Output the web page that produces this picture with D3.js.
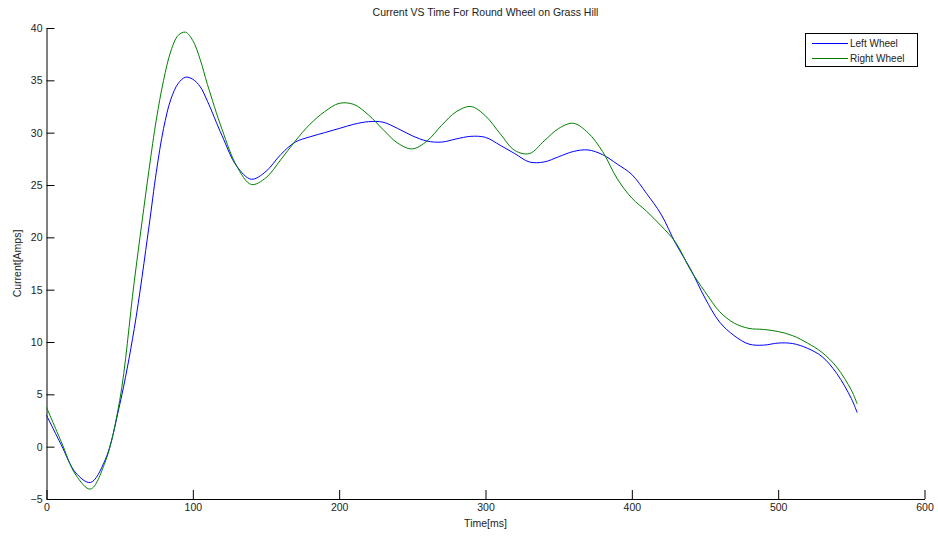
<!DOCTYPE html>
<html>
<head>
<meta charset="utf-8">
<script src="https://cdn.jsdelivr.net/npm/d3@7"></script>
<style>
  body { margin: 0; background: #fff; }
  svg { font-family: Arial, "Liberation Sans", sans-serif; }
</style>
</head>
<body>
<svg width="938" height="538"></svg>
<script>
"use strict";

// sample times (ms)
var time = [0, 10, 20, 30, 40, 50, 60, 70, 75, 80, 85, 90, 95, 100, 105, 110, 120, 130, 140, 150, 160, 170, 180, 190,
  200, 210, 220, 230, 240, 250, 260, 270, 280, 290, 300, 310, 320, 330, 340, 350, 360, 370, 380, 390,
  400, 410, 420, 430, 440, 450, 460, 470, 480, 490, 500, 510, 520, 530, 540, 550, 554];

var leftWheel = [3.0, 0.2, -2.5, -3.42, -1.3, 4.0, 11.3, 21.0, 26.2, 30.4, 33.2, 34.7, 35.3, 35.1, 34.4, 33.0, 29.7, 26.8, 25.55, 26.3, 27.9, 29.1, 29.6, 30.0,
  30.4, 30.8, 31.05, 31.0, 30.4, 29.7, 29.2, 29.1, 29.4, 29.65, 29.55, 28.8, 28.0, 27.2, 27.2, 27.7, 28.2, 28.35, 27.9, 27.0,
  26.0, 24.2, 22.2, 19.4, 17.0, 14.2, 11.9, 10.6, 9.8, 9.7, 9.9, 9.85, 9.4, 8.6, 7.0, 4.6, 3.25];

var rightWheel = [3.76, 0.5, -2.7, -4.05, -1.5, 4.4, 15.8, 26.4, 31.2, 35.0, 37.8, 39.3, 39.6, 38.8, 37.0, 34.6, 30.3, 26.8, 25.05, 25.7, 27.4, 29.2, 30.8, 32.0,
  32.8, 32.7, 31.7, 30.3, 29.0, 28.45, 29.2, 30.7, 32.0, 32.5, 31.6, 29.9, 28.3, 28.0, 29.2, 30.4, 30.9, 30.0, 28.2, 25.6,
  23.75, 22.5, 21.1, 19.5, 16.9, 14.8, 12.9, 11.8, 11.3, 11.2, 11.0, 10.6, 9.9, 9.0, 7.6, 5.4, 4.08];

var xTicks = [0, 100, 200, 300, 400, 500, 600];
var yTicks = [-5, 0, 5, 10, 15, 20, 25, 30, 35, 40];

var seriesNames = ["Left Wheel", "Right Wheel"];
var seriesColors = ["#0000ff", "#008000"];

var svg = d3.select("svg");
var x = d3.scaleLinear().domain([0, 600]).range([46.5, 924.5]);
var y = d3.scaleLinear().domain([-5, 40]).range([499, 28]);

function styleAxis(g) {
  g.select(".domain").attr("stroke", "#000");
  g.selectAll(".tick line").attr("stroke", "#000");
  g.selectAll("text").attr("font-size", 10.5).attr("fill", "#222")
    .attr("font-family", "Arial, 'Liberation Sans', sans-serif");
}

// axes, ticks pointing inward
svg.append("g")
  .attr("transform", "translate(0," + y(-5) + ")")
  .call(d3.axisBottom(x).tickValues(xTicks).tickSizeInner(-9).tickSizeOuter(0).tickPadding(5))
  .call(styleAxis);

svg.append("g")
  .attr("transform", "translate(" + x(0) + ",0)")
  .call(d3.axisLeft(y).tickValues(yTicks).tickSizeInner(-8).tickSizeOuter(0).tickPadding(4))
  .call(styleAxis);

// lines
var line = d3.line()
  .x(function (d) { return x(d[0]); })
  .y(function (d) { return y(d[1]); })
  .curve(d3.curveCatmullRom.alpha(0.5));

[leftWheel, rightWheel].forEach(function (vals, i) {
  svg.append("path")
    .datum(time.map(function (t, j) { return [t, vals[j]]; }))
    .attr("fill", "none")
    .attr("stroke", seriesColors[i])
    .attr("stroke-width", 1)
    .attr("d", line);
});

// titles
svg.append("text")
  .attr("x", (x(0) + x(600)) / 2).attr("y", 16)
  .attr("text-anchor", "middle").attr("font-size", 10.5).attr("fill", "#222")
  .text("Current VS Time For Round Wheel on Grass Hill");

svg.append("text")
  .attr("x", (x(0) + x(600)) / 2).attr("y", 527)
  .attr("text-anchor", "middle").attr("font-size", 10.5).attr("fill", "#222")
  .text("Time[ms]");

svg.append("text")
  .attr("transform", "translate(21," + ((y(40) + y(-5)) / 2) + ") rotate(-90)")
  .attr("text-anchor", "middle").attr("font-size", 10.5).attr("fill", "#222")
  .text("Current[Amps]");

// legend
var legend = svg.append("g");
legend.append("rect")
  .attr("x", 805.5).attr("y", 33.5).attr("width", 112).attr("height", 33)
  .attr("fill", "#fff").attr("stroke", "#000").attr("stroke-width", 1);

seriesNames.forEach(function (name, i) {
  var ly = 43.5 + i * 15;
  legend.append("line")
    .attr("x1", 812).attr("x2", 848).attr("y1", ly).attr("y2", ly)
    .attr("stroke", seriesColors[i]).attr("stroke-width", 1);
  legend.append("text")
    .attr("x", 850).attr("y", ly + 3.6)
    .attr("font-size", 10).attr("fill", "#222")
    .text(name);
});
</script>
</body>
</html>
